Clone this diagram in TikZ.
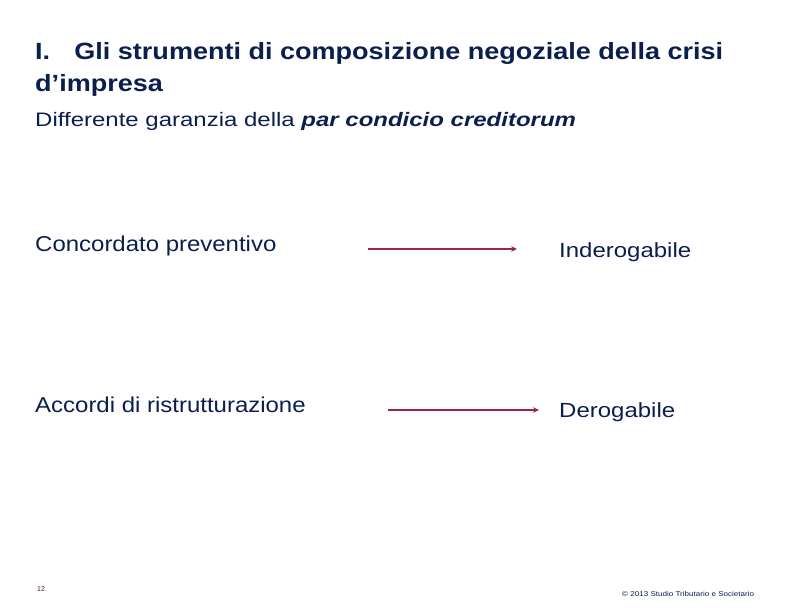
\documentclass[tikz,border=0pt]{standalone}
\usepackage{fontspec}
\usetikzlibrary{arrows.meta}
\setmainfont{Liberation Sans}
\definecolor{navy}{HTML}{0B1F4F}
\definecolor{crim}{HTML}{9B2743}
\definecolor{foot}{HTML}{5A1030}
\begin{document}
\begin{tikzpicture}[x=1pt,y=1pt,
  txt/.style={anchor=base west,inner sep=0pt,text=navy,transform shape},
  arr/.style={draw=crim,line width=2pt,-{Stealth[length=6pt,width=5.5pt]}}]
\useasboundingbox[fill=white] (0,0) rectangle (792,-612);
\node[txt,xscale=1.15,font=\fontsize{23.5}{28}\selectfont\bfseries] (t1) at (35,-59.5) {I.\hspace{21pt}Gli strumenti di composizione negoziale della crisi};
\node[txt,xscale=1.15,font=\fontsize{23.5}{28}\selectfont\bfseries] (t2) at (35,-92) {d’impresa};
\node[txt,xscale=1.23,font=\fontsize{19.5}{22}\selectfont] (sub) at (35,-127) {Differente garanzia della \textbf{\textit{par condicio creditorum}}};
\node[txt,xscale=1.115,font=\fontsize{21.5}{24}\selectfont] (a1) at (35,-252) {Concordato preventivo};
\node[txt,xscale=1.17,font=\fontsize{20.5}{24}\selectfont] (b1) at (559,-257.5) {Inderogabile};
\node[txt,xscale=1.115,font=\fontsize{21.5}{24}\selectfont] (a2) at (35,-412) {Accordi di ristrutturazione};
\node[txt,xscale=1.17,font=\fontsize{20.5}{24}\selectfont] (b2) at (559,-417.5) {Derogabile};
\coordinate (s1) at (368,-249);
\coordinate (e1) at (517,-249);
\coordinate (s2) at (388,-410);
\coordinate (e2) at (539,-410);
\draw[arr] (s1) -- (e1);
\draw[arr] (s2) -- (e2);
\node[txt,text=foot,font=\fontsize{7}{8}\selectfont] (pg) at (37,-591) {12};
\node[txt,xscale=1.15,font=\fontsize{7}{8}\selectfont] (ft) at (622,-596) {© 2013 Studio Tributario e Societario};
\end{tikzpicture}
\end{document}
